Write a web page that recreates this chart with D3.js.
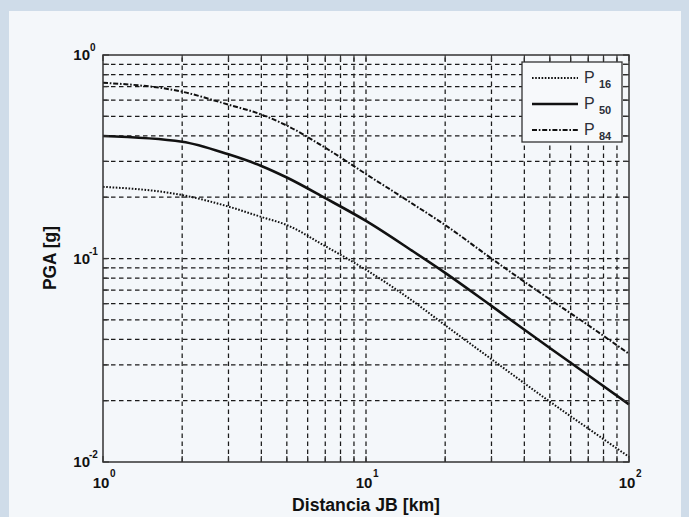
<!DOCTYPE html>
<html>
<head>
<meta charset="utf-8">
<title>PGA vs distancia JB</title>
<script src="https://cdn.jsdelivr.net/npm/d3@7/dist/d3.min.js"></script>
<style>
  body { margin: 0; background: #cfdce9; }
  svg { display: block; font-family: "Liberation Sans", Arial, sans-serif; }
  .grid line { stroke: #1a1a1a; stroke-width: 1.25; stroke-dasharray: 4.5,3.5; }
  .tick-in line { stroke: #333; stroke-width: 1.2; }
  .lbl { font-weight: bold; fill: #111; }
</style>
</head>
<body>
<svg id="chart" width="689" height="517"></svg>
<script>
// distance (km) and percentiles of PGA (g)
const distances = [1, 2, 3, 4, 5, 7, 10, 15, 20, 30, 50, 70, 100];
const p16 = [0.225, 0.205, 0.18, 0.16, 0.146, 0.115, 0.088, 0.062, 0.047, 0.032, 0.0198, 0.0146, 0.0106];
const p50 = [0.40, 0.375, 0.325, 0.285, 0.25, 0.198, 0.153, 0.109, 0.085, 0.0585, 0.0363, 0.0267, 0.0192];
const p84 = [0.73, 0.66, 0.57, 0.51, 0.45, 0.35, 0.26, 0.186, 0.146, 0.10, 0.063, 0.047, 0.034];

const seriesNames = ["16", "50", "84"];
const xTickExps = [0, 1, 2];
const yTickExps = [0, -1, -2];

const svg = d3.select("#chart");

// panel
svg.append("rect").attr("x", 9).attr("y", 11).attr("width", 672).attr("height", 510)
  .attr("fill", "#f4f7fa");

const mLeft = 103, mRight = 629, mTop = 55, mBottom = 462;

const x = d3.scaleLog().domain([1, 100]).range([mLeft, mRight]);
const y = d3.scaleLog().domain([0.01, 1]).range([mBottom, mTop]);

// all major+minor positions
const xMinor = [];
for (let e = 0; e < 2; e++) for (let k = 1; k < 10; k++) xMinor.push(k * Math.pow(10, e));
xMinor.push(100);
const yMinor = [];
for (let e = -2; e < 0; e++) for (let k = 1; k < 10; k++) yMinor.push(k * Math.pow(10, e));
yMinor.push(1);

// grid
const grid = svg.append("g").attr("class", "grid");
grid.selectAll(".vx").data(xMinor.slice(1, -1)).join("line")
  .attr("x1", d => x(d)).attr("x2", d => x(d)).attr("y1", mBottom).attr("y2", mTop);
grid.selectAll(".hy").data(yMinor.slice(1, -1)).join("line")
  .attr("y1", d => y(d)).attr("y2", d => y(d)).attr("x1", mLeft).attr("x2", mRight);

// curves
const line = d3.line().x(d => x(d[0])).y(d => y(d[1])).curve(d3.curveMonotoneX);
const styles = [
  { data: p16, dash: "1.6,1.6", w: 2 },
  { data: p50, dash: null, w: 2.6 },
  { data: p84, dash: "5,1.8,1.6,1.8", w: 2 }
];
styles.forEach(s => {
  svg.append("path")
    .attr("d", line(distances.map((d, i) => [d, s.data[i]])))
    .attr("fill", "none").attr("stroke", "#111")
    .attr("stroke-width", s.w)
    .attr("stroke-dasharray", s.dash);
});

// legend box
const lg = svg.append("g");
const lx = 522, ly = 62, lw = 100, lh = 80;
lg.append("rect").attr("x", lx).attr("y", ly).attr("width", lw).attr("height", lh)
  .attr("fill", "#f7f9fb").attr("stroke", "#333").attr("stroke-width", 1.3);
styles.forEach((s, i) => {
  const yy = 78 + i * 26;
  lg.append("line").attr("x1", 532).attr("x2", 578).attr("y1", yy).attr("y2", yy)
    .attr("stroke", "#111").attr("stroke-width", s.w).attr("stroke-dasharray", s.dash);
  lg.append("text").attr("x", 584).attr("y", yy + 5).attr("font-size", 16)
    .attr("fill", "#2b2f38").text("P");
  lg.append("text").attr("x", 599).attr("y", yy + 10).attr("font-size", 11)
    .attr("font-weight", "bold").attr("fill", "#2b2f38").text(seriesNames[i]);
});

// inward ticks on all sides
const tk = svg.append("g").attr("class", "tick-in");
const tl = 6;
tk.selectAll(".tt").data(xMinor).join("line")
  .attr("x1", d => x(d)).attr("x2", d => x(d)).attr("y1", mTop).attr("y2", mTop + tl);
tk.selectAll(".tb").data(xMinor).join("line")
  .attr("x1", d => x(d)).attr("x2", d => x(d)).attr("y1", mBottom).attr("y2", mBottom - tl);
tk.selectAll(".tr").data(yMinor).join("line")
  .attr("y1", d => y(d)).attr("y2", d => y(d)).attr("x1", mRight).attr("x2", mRight - tl);
tk.selectAll(".tlf").data(yMinor).join("line")
  .attr("y1", d => y(d)).attr("y2", d => y(d)).attr("x1", mLeft).attr("x2", mLeft + tl);

// frame
svg.append("rect").attr("x", mLeft).attr("y", mTop).attr("width", mRight - mLeft).attr("height", mBottom - mTop)
  .attr("fill", "none").attr("stroke", "#333").attr("stroke-width", 1.5);

// tick labels
yTickExps.forEach(e => {
  const yy = y(Math.pow(10, e));
  svg.append("text").attr("class", "lbl").attr("x", 90).attr("y", yy + 5)
    .attr("text-anchor", "end").attr("font-size", 15).text("10");
  svg.append("text").attr("class", "lbl").attr("x", e < 0 ? 89 : 90).attr("y", yy - 4)
    .attr("font-size", 10).text(e);
});
xTickExps.forEach(e => {
  const xx = x(Math.pow(10, e));
  svg.append("text").attr("class", "lbl").attr("x", xx - 2).attr("y", 488)
    .attr("text-anchor", "middle").attr("font-size", 15).text("10");
  svg.append("text").attr("class", "lbl").attr("x", xx + 7).attr("y", 477)
    .attr("font-size", 10).text(e);
});

// axis titles
svg.append("text").attr("class", "lbl").attr("x", 366).attr("y", 511)
  .attr("text-anchor", "middle").attr("font-size", 18)
  .attr("textLength", 148).attr("lengthAdjust", "spacingAndGlyphs")
  .text("Distancia JB [km]");
svg.append("text").attr("class", "lbl")
  .attr("transform", "translate(56,258) rotate(-90)")
  .attr("text-anchor", "middle").attr("font-size", 18)
  .attr("textLength", 64).attr("lengthAdjust", "spacingAndGlyphs")
  .text("PGA [g]");
</script>
</body>
</html>
